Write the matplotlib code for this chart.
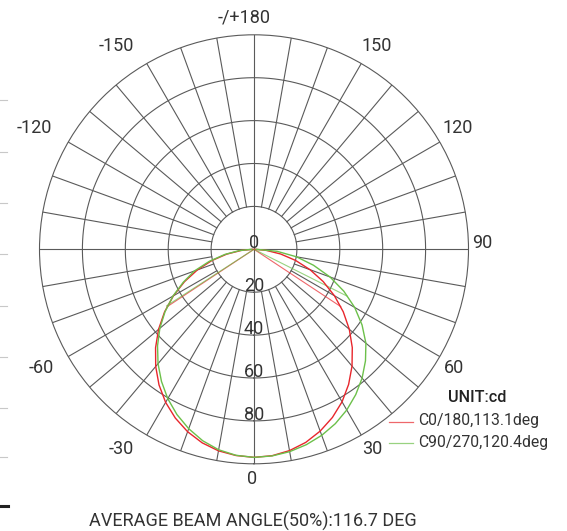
import numpy as np
import matplotlib
matplotlib.use("Agg")
import matplotlib.pyplot as plt
from matplotlib.lines import Line2D

plt.rcParams["font.family"] = ["Roboto", "DejaVu Sans"]

# gamma angles (deg) and intensities (cd)
gamma = [0, 5, 10, 15, 20, 25, 30, 35, 40, 45, 50, 55, 60, 65, 70, 75, 80, 85, 90]
c0 = [97.0, 96.6, 95.3, 93.2, 90.2, 86.5, 82.1, 76.9, 71.1, 64.8, 58.0, 50.8, 43.3, 35.6, 27.8, 20.1, 12.6, 5.7, 0.6]
c180 = [97.0, 96.5, 95.4, 93.4, 90.5, 86.8, 82.4, 77.2, 71.3, 64.9, 58.1, 50.9, 43.4, 35.8, 28.1, 20.4, 12.9, 5.9, 0.6]
c90 = [97.0, 96.7, 95.8, 94.3, 92.3, 89.7, 86.5, 82.7, 78.4, 73.5, 68.1, 61.5, 54.2, 46.2, 37.7, 28.7, 20.1, 10.8, 1.0]
c270 = [97.0, 96.4, 94.9, 92.4, 89.0, 85.0, 80.4, 75.2, 69.6, 63.6, 57.3, 50.6, 43.6, 36.4, 29.6, 21.5, 13.8, 6.8, 1.0]

# half-beam angles (50% of max) for each plane
c0_half = [-56.55, 56.55]
c90_half = [-57.1, 63.3]
half_value = 48.5

ring_values = [0, 20, 40, 60, 80]
angle_ticks = [0, 30, 60, 90, 120, 150, 180, -150, -120, -60, -30]
angle_labels = ["0", "30", "60", "90", "120", "150", "-/+180", "-150", "-120", "-60", "-30"]
# nudges in pixels (x right, y down)
label_shift = [(-2, -2), (2, -1), (-1, 3), (-3, -6), (3, -5), (7, -3), (-10, 0),
               (-22, -3), (-19, -5), (-12, 3), (-17, -1)]

red = "#e8262c"
green = "#6cc04a"
grid_c = "#5a5a5a"
text_c = "#333333"

W, H = 567, 531
fig = plt.figure(figsize=(W / 100, H / 100), dpi=100)
cx, cy, R = 254, 249.3, 214.5
ax = fig.add_axes([(cx - R) / W, (H - cy - R) / H, 2 * R / W, 2 * R / H], projection="polar")
ax.set_theta_zero_location("S")
ax.set_theta_direction(1)
ax.set_ylim(0, 100)
ax.set_xticks([])
ax.set_yticks([])
ax.grid(False)
ax.spines["polar"].set_color(grid_c)
ax.spines["polar"].set_linewidth(0.8)

t = np.linspace(0, 2 * np.pi, 400)
for r in ring_values[1:]:
    ax.plot(t, np.full_like(t, r), color=grid_c, lw=0.8)
for a in range(0, 360, 10):
    r0 = 0 if a % 90 == 0 else 20
    ax.plot([np.radians(a)] * 2, [r0, 100], color=grid_c, lw=0.8)

g = np.array(gamma)
def plane(left, right):
    th = np.radians(np.concatenate([-g[::-1], g[1:]]))
    rr = np.concatenate([np.array(left)[::-1], np.array(right)[1:]])
    return th, rr

th, rr = plane(c180, c0)
ax.plot(th, rr, color=red, lw=1.0, zorder=5)
th, rr = plane(c270, c90)
ax.plot(th, rr, color=green, lw=1.0, zorder=5)

for a in c0_half:
    ax.plot([0, np.radians(a)], [0, half_value], color=red, lw=0.8, alpha=0.7, zorder=4)
for a in c90_half:
    ax.plot([0, np.radians(a)], [0, half_value], color=green, lw=0.8, alpha=0.7, zorder=4)

for v in ring_values:
    ax.annotate(str(v), (0, v), xytext=(0, 1), textcoords="offset pixels",
                ha="center", va="baseline", fontsize=13, color=text_c, zorder=6)

for a, lab, (dx, dy) in zip(angle_ticks, angle_labels, label_shift):
    ax.annotate(lab, (np.radians(a), 108), xytext=(dx, -dy), textcoords="offset pixels",
                ha="center", va="center", fontsize=13, color=text_c, annotation_clip=False)

def fx(px):
    return px / W

def fy(py):
    return 1 - py / H

fig.text(fx(448), fy(402.3), "UNIT:cd", fontsize=11.7, fontweight="medium",
         color="#222222", va="baseline")
fig.add_artist(Line2D([fx(389), fx(413)], [fy(421.7)] * 2, color=red, lw=0.9, alpha=0.7))
fig.text(fx(418), fy(425), "C0/180,113.1deg", fontsize=11.3, color=text_c, va="baseline")
fig.add_artist(Line2D([fx(389), fx(413)], [fy(442.7)] * 2, color=green, lw=0.9, alpha=0.7))
fig.text(fx(418), fy(446.7), "C90/270,120.4deg", fontsize=11.3, color=text_c, va="baseline")

fig.text(fx(252.5), fy(526.5), "AVERAGE BEAM ANGLE(50%):116.7 DEG", fontsize=13,
         color=text_c, ha="center", va="baseline")

# bits of the neighbouring chart at the left edge
for py in [100, 152, 203, 254, 306, 357, 408, 457]:
    fig.add_artist(Line2D([0, fx(7)], [fy(py)] * 2, color="#c8c8c8", lw=0.8))
fig.add_artist(Line2D([0, fx(8)], [fy(506)] * 2, color="#222222", lw=2.2))

fig.savefig("out.png", dpi=100)
